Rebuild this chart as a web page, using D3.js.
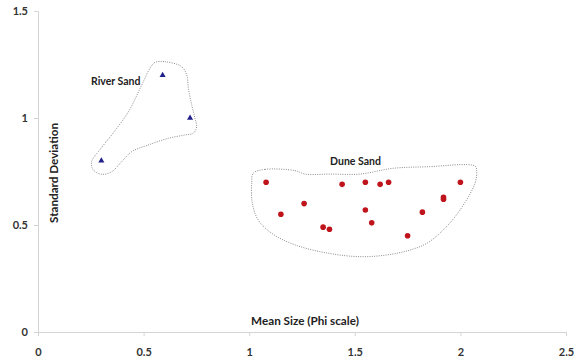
<!DOCTYPE html>
<html>
<head>
<meta charset="utf-8">
<script src="https://cdn.jsdelivr.net/npm/d3@7"></script>
<style>
  body { margin: 0; background: #fff; }
  text { font-family: Lato, "Open Sans", sans-serif; font-weight: bold; }
</style>
</head>
<body>
<div id="chart"></div>
<script>
const riverX = [0.3, 0.59, 0.72];
const riverY = [0.8, 1.2, 1.0];

const duneX = [1.08, 1.15, 1.26, 1.35, 1.38, 1.44, 1.55, 1.55, 1.58, 1.62, 1.66, 1.75, 1.82, 1.92, 1.92, 2.0];
const duneY = [0.7, 0.55, 0.6, 0.49, 0.48, 0.69, 0.7, 0.57, 0.51, 0.69, 0.7, 0.45, 0.56, 0.63, 0.62, 0.7];

const riverHull = [
  [0.554, 1.26], [0.601, 1.263], [0.68, 1.24], [0.704, 1.201], [0.712, 1.139],
  [0.728, 1.061], [0.743, 0.999], [0.751, 0.959], [0.735, 0.929], [0.696, 0.921],
  [0.617, 0.905], [0.522, 0.874], [0.444, 0.843], [0.396, 0.796], [0.349, 0.749],
  [0.302, 0.737], [0.262, 0.757], [0.254, 0.796], [0.286, 0.843], [0.349, 0.921],
  [0.428, 1.029], [0.491, 1.154], [0.53, 1.232]
];
const duneHull = [
  [1.019, 0.742], [1.075, 0.76], [1.217, 0.754], [1.264, 0.738], [1.383, 0.738],
  [1.525, 0.738], [1.682, 0.765], [1.84, 0.772], [2.069, 0.776], [2.077, 0.757],
  [2.069, 0.695], [1.998, 0.57], [1.919, 0.477], [1.84, 0.414], [1.761, 0.383],
  [1.651, 0.36], [1.525, 0.352], [1.375, 0.368], [1.217, 0.407], [1.107, 0.461],
  [1.043, 0.523], [1.015, 0.601], [1.012, 0.695]
];

const xTicks = [0, 0.5, 1, 1.5, 2, 2.5];
const yTicks = [0, 0.5, 1, 1.5];

const groupLabels = [
  { name: "River Sand", x: 0.251, y: 1.154 },
  { name: "Dune Sand", x: 1.383, y: 0.78 }
];

const width = 579;
const height = 358;

const svg = d3.select("#chart")
  .append("svg")
  .attr("width", width)
  .attr("height", height);

const x = d3.scaleLinear().domain([0, 2.5]).range([38, 566]);
const y = d3.scaleLinear().domain([0, 1.5]).range([332, 11]);

const xAxis = svg.append("g")
  .attr("transform", `translate(0,${y(0)})`)
  .call(d3.axisBottom(x).tickValues(xTicks).tickFormat(d3.format("")).tickSize(4).tickPadding(12));

const yAxis = svg.append("g")
  .attr("transform", `translate(${x(0)},0)`)
  .call(d3.axisLeft(y).tickValues(yTicks).tickFormat(d3.format("")).tickSize(4).tickPadding(6));

[xAxis, yAxis].forEach(ax => {
  ax.select(".domain").attr("stroke", "#d4d4d4");
  ax.selectAll(".tick line").attr("stroke", "#d4d4d4");
  ax.selectAll(".tick text")
    .attr("fill", "#333")
    .style("font-size", "11px");
});

const hull = d3.line()
  .x(d => x(d[0]))
  .y(d => y(d[1]))
  .curve(d3.curveCatmullRomClosed);

svg.selectAll(".hull")
  .data([riverHull, duneHull])
  .join("path")
  .attr("class", "hull")
  .attr("d", hull)
  .attr("fill", "none")
  .attr("stroke", "#8c8c8c")
  .attr("stroke-width", 1)
  .attr("stroke-dasharray", "1,1.3");

svg.selectAll(".river")
  .data(riverX)
  .join("path")
  .attr("class", "river")
  .attr("d", d3.symbol().type(d3.symbolTriangle).size(16))
  .attr("transform", (d, i) => `translate(${x(d)},${y(riverY[i])})`)
  .attr("fill", "#20208a");

svg.selectAll(".dune")
  .data(duneX)
  .join("circle")
  .attr("class", "dune")
  .attr("cx", d => x(d))
  .attr("cy", (d, i) => y(duneY[i]))
  .attr("r", 2.8)
  .attr("fill", "#c0141c");

svg.selectAll(".group-label")
  .data(groupLabels)
  .join("text")
  .attr("class", "group-label")
  .attr("x", d => x(d.x))
  .attr("y", d => y(d.y))
  .attr("fill", "#222")
  .style("font-size", "10.5px")
  .text(d => d.name);

svg.append("text")
  .attr("text-anchor", "middle")
  .attr("x", 305)
  .attr("y", 325)
  .attr("fill", "#222")
  .style("font-size", "11.7px")
  .text("Mean Size (Phi scale)");

svg.append("text")
  .attr("text-anchor", "middle")
  .attr("transform", "translate(58,173) rotate(-90)")
  .attr("fill", "#222")
  .style("font-size", "11.7px")
  .text("Standard Deviation");
</script>
</body>
</html>
